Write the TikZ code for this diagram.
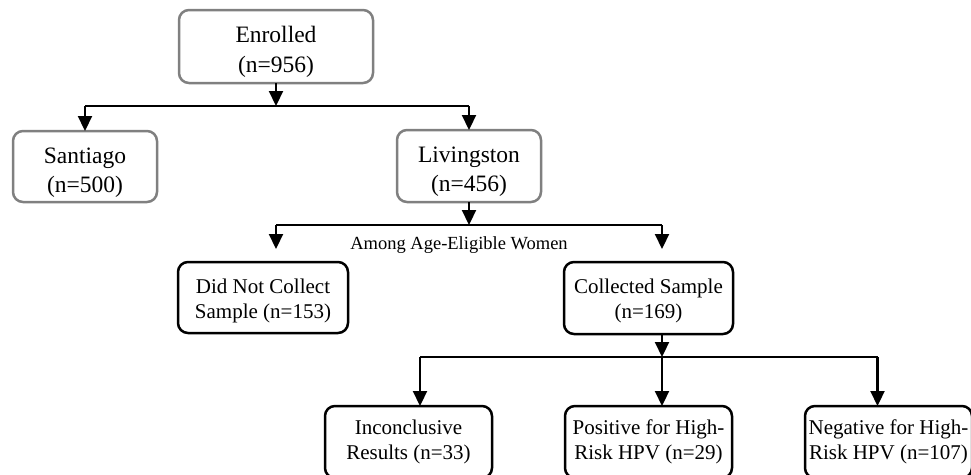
\documentclass[tikz,border=0pt]{standalone}
\usepackage{fontspec}
\setmainfont{Liberation Serif}
\usetikzlibrary{positioning, arrows.meta}
\definecolor{boxgray}{RGB}{128,128,128}
\newcommand{\toplift}{\rule{0pt}{27pt}}
\newcommand{\lowlift}{\rule{0pt}{21pt}}

\begin{document}
\begin{tikzpicture}[
        x=1pt, y=-1pt,
        arr/.style={-{Triangle[width=14pt,length=15pt]}, line width=2.2pt},
        bar/.style={line width=1.4pt},
        graybox/.style={draw=boxgray, line width=2.5pt, rounded corners=10pt, align=center,
                        minimum width=144pt, minimum height=72pt, inner xsep=1pt, inner ysep=0pt, outer sep=0pt,
                        font=\fontsize{23.5}{29}\selectfont},
        blackbox/.style={draw, line width=2.5pt, rounded corners=10pt, align=center,
                         minimum width=167pt, minimum height=72pt, inner xsep=1pt, inner ysep=0pt, outer sep=0pt,
                         font=\fontsize{21}{25}\selectfont}
    ]
    \useasboundingbox (0,0) rectangle (971,474);

    \node[graybox, minimum width=194pt, minimum height=73pt] (enr) at (276,46.5) {\toplift Enrolled\\(n=956)};
    \node[graybox, minimum height=71pt, below left=48pt and 22pt of enr] (sant) {\toplift Santiago\\(n=500)};
    \node[graybox, below right=47pt and 24pt of enr] (liv) {\toplift Livingston\\(n=456)};
    \node[blackbox, minimum width=170pt, minimum height=71pt, below left=60pt and 49pt of liv] (dnc) {\lowlift Did Not Collect\\Sample (n=153)};
    \node[blackbox, minimum width=169pt, below right=60pt and 23pt of liv] (cs) {\lowlift Collected Sample\\(n=169)};
    \node[blackbox, below=72pt of cs] (pos) {Positive for High-\\Risk HPV (n=29)};
    \node[blackbox, left=73pt of pos] (inc) {Inconclusive\\Results (n=33)};
    \node[blackbox, right=73pt of pos] (neg) {Negative for High-\\Risk HPV (n=107)};
    \node[anchor=base, font=\fontsize{18.5}{22}\selectfont] (among) at (459,249) {Among Age-Eligible Women};

    \coordinate (s1) at (276,106);
    \coordinate (s2) at (469,225);
    \coordinate (s3) at (662,357);
    \coordinate (dncin) at (276,249);
    \coordinate (csin) at (662,249);

    \draw[arr] (enr) -- (s1);
    \draw[bar] (sant.north |- s1) -- (liv.north |- s1);
    \draw[arr] (sant.north |- s1) -- (sant);
    \draw[arr] (liv.north |- s1) -- (liv);

    \draw[arr] (liv) -- (s2);
    \draw[bar] (dncin |- s2) -- (csin |- s2);
    \draw[arr] (dncin |- s2) -- (dncin);
    \draw[arr] (csin |- s2) -- (csin);

    \draw[arr] (cs.south -| s3) -- (s3);
    \draw[bar] ([xshift=11.5pt]inc.north |- s3) -- ([xshift=-11pt]neg.north |- s3);
    \draw[arr] ([xshift=11.5pt]inc.north |- s3) -- ([xshift=11.5pt]inc.north);
    \draw[arr] (s3) -- (pos.north -| s3);
    \draw[arr] ([xshift=-11pt]neg.north |- s3) -- ([xshift=-11pt]neg.north);

\end{tikzpicture}
\end{document}
